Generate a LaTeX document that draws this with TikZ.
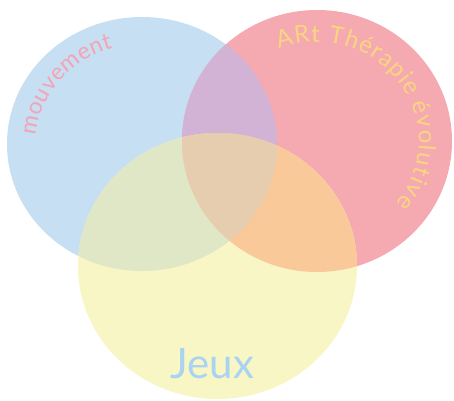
\documentclass[tikz,border=0pt]{standalone}
\usepackage{fontspec}
\usepackage{xcolor}
\usetikzlibrary{calc,decorations.text}
\newfontfamily\hand{Lato}
\definecolor{color_fill_blue}{HTML}{c6dff2}
\definecolor{color_fill_pink}{HTML}{f5a9b1}
\definecolor{color_fill_yellow}{HTML}{f8f6c4}
\definecolor{color_blue_pink}{HTML}{d2b3d6}
\definecolor{color_blue_yellow}{HTML}{e0e7c7}
\definecolor{color_pink_yellow}{HTML}{f9c99a}
\definecolor{color_all_three}{HTML}{e6cdb0}
\definecolor{color_text_mouvement}{HTML}{f5a3b6}
\definecolor{color_text_art}{HTML}{f9d580}
\definecolor{color_text_jeux}{HTML}{a9d3f2}
\tikzset{
	blob blue/.style={x radius=135, y radius=127},
	blob pink/.style={x radius=135, y radius=131},
	blob yellow/.style={x radius=139.5, y radius=133},
	curved label/.style={decorate, decoration={text along path, text align={fit to path}}}
}

\begin{document}
\begin{tikzpicture}[x=1pt,y=1pt]
				\useasboundingbox (0, 0) rectangle (454, 400);
				% Centres
				\coordinate (CB) at (142, 256);
				\coordinate (CP) at (317, 259);
				\coordinate (CY) at (217.5, 134);

				% Circles
				\fill[color_fill_blue] (CB) ellipse[blob blue];
				\fill[color_fill_pink] (CP) ellipse[blob pink];
				\fill[color_fill_yellow] (CY) ellipse[blob yellow];

				% Overlaps
				\begin{scope}
					\clip (CB) ellipse[blob blue];
					\fill[color_blue_pink] (CP) ellipse[blob pink];
					\fill[color_blue_yellow] (CY) ellipse[blob yellow];
				\end{scope}
				\begin{scope}
					\clip (CP) ellipse[blob pink];
					\fill[color_pink_yellow] (CY) ellipse[blob yellow];
				\end{scope}
				\begin{scope}
					\clip (CB) ellipse[blob blue];
					\clip (CP) ellipse[blob pink];
					\fill[color_all_three] (CY) ellipse[blob yellow];
				\end{scope}

				% Labels
				\path[curved label, decoration={text={|\hand\fontsize{23}{23}\selectfont\color{color_text_mouvement}|mouvement}}]
					($(CB) + (175:106 and 99.5)$) arc[start angle=175, end angle=106, x radius=106, y radius=99.5];
				\path[curved label, decoration={text={|\hand\fontsize{24}{24}\selectfont\color{color_text_art}|ARt Thérapie évolutive}}]
					($(CP) + (112:102 and 99)$) arc[start angle=112, end angle=-39, x radius=102, y radius=99];
				\node[anchor=base, text=color_text_jeux, font=\hand\fontsize{42}{42}\selectfont] (jeux) at (212.5, 22) {Jeux};
			\end{tikzpicture}
\end{document}
